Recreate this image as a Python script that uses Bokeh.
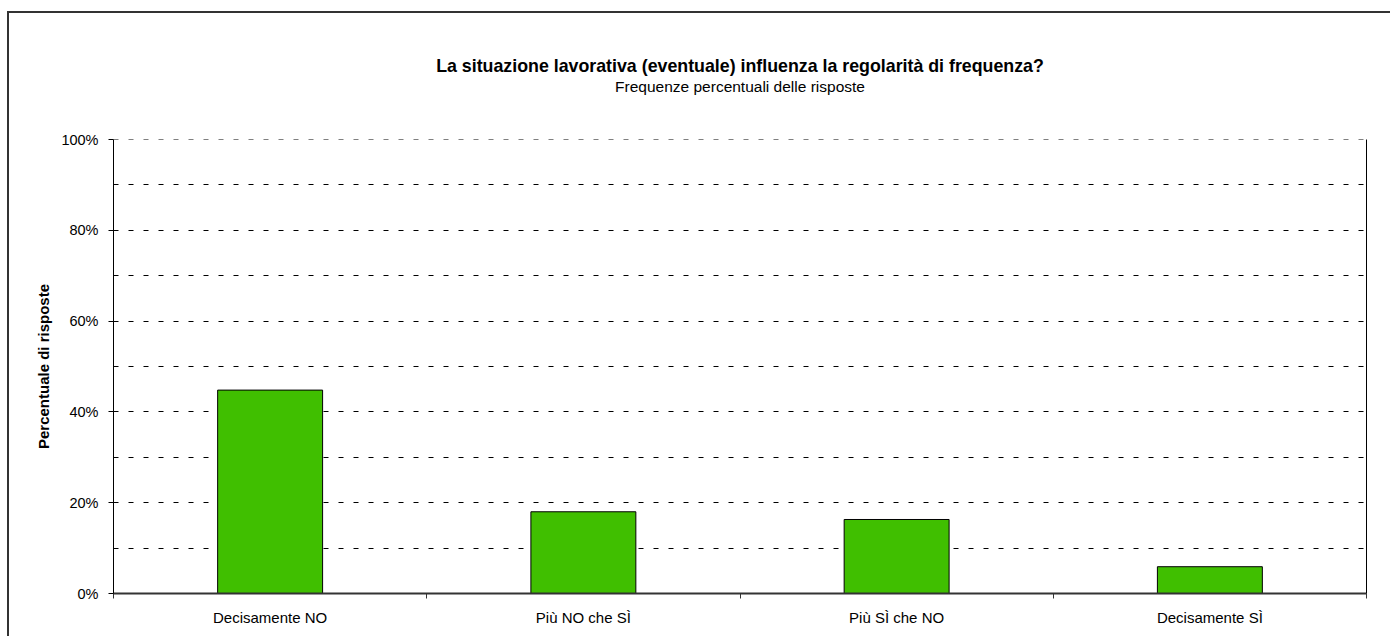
from bokeh.plotting import figure
from bokeh.models import Range1d, FixedTicker, LinearAxis, Title, ColumnDataSource, PrintfTickFormatter, Span
from bokeh.embed import file_html
from bokeh.resources import INLINE

# ---- data ----
categories = ["Decisamente NO", "Più NO che SÌ", "Più SÌ che NO", "Decisamente SÌ"]
percentages = [44.8, 18.0, 16.3, 5.9]
y_major_ticks = [0, 20, 40, 60, 80, 100]
y_minor_ticks = [10, 30, 50, 70, 90]
title_text = "La situazione lavorativa (eventuale) influenza la regolarità di frequenza?"
subtitle_text = "Frequenze percentuali delle risposte"
y_label = "Percentuale di risposte"

FONT = "Liberation Sans"

positions = [i + 0.5 for i in range(len(categories))]
boundaries = [float(i) for i in range(len(categories) + 1)]
src = ColumnDataSource(dict(x=positions, top=percentages, cat=categories))

p = figure(
    width=1383, height=625,
    x_range=Range1d(0, len(categories)), y_range=Range1d(0, 100),
    output_backend="svg", toolbar_location=None,
    min_border_left=104, min_border_right=26, min_border_top=126, min_border_bottom=45,
    title=None,
)
p.styles = {"margin-top": "11px", "margin-left": "7px",
            "border-left": "2px solid #333", "border-top": "2px solid #333"}
p.outline_line_color = None
p.background_fill_color = "white"
p.border_fill_color = "white"

p.vbar(x="x", top="top", width=0.335, source=src,
       fill_color="#40BF00", line_color="black", line_width=1)

# titles (spacer closest to the frame, then subtitle, then main title)
spacer = Title(text=" ", align="center", text_font=FONT, text_font_size="1px",
               text_color="white", standoff=42)
sub = Title(text=subtitle_text, align="center", text_font=FONT, text_font_size="15.5px",
            text_font_style="normal", text_color="black", standoff=0)
main = Title(text=title_text, align="center", text_font=FONT, text_font_size="17.8px",
             text_font_style="bold", text_color="black", standoff=0)
p.add_layout(spacer, "above")
p.add_layout(sub, "above")
p.add_layout(main, "above")

# x axis
xa = p.xaxis[0]
xa.ticker = FixedTicker(ticks=positions, minor_ticks=boundaries)
xa.major_label_overrides = {pos: c for pos, c in zip(positions, categories)}
xa.major_tick_line_color = None
xa.major_tick_out = 5
xa.major_label_standoff = 10
xa.minor_tick_in = 0
xa.minor_tick_out = 5
xa.minor_tick_line_color = "#333333"
xa.axis_line_color = "#333333"
xa.axis_line_width = 2
xa.major_label_text_font = FONT
xa.major_label_text_font_size = "15px"
xa.major_label_text_color = "black"

# y axis
ya = p.yaxis[0]
yt = FixedTicker(ticks=y_major_ticks, minor_ticks=y_minor_ticks)
ya.ticker = yt
ya.formatter = PrintfTickFormatter(format="%d%%")
ya.major_tick_in = 0
ya.major_tick_out = 5
ya.major_tick_line_color = "black"
ya.minor_tick_line_color = None
ya.axis_line_color = "black"
ya.major_label_standoff = 10
ya.major_label_text_font = FONT
ya.major_label_text_font_size = "14.5px"
ya.major_label_text_color = "black"
ya.axis_label = y_label
ya.axis_label_text_font = FONT
ya.axis_label_text_font_size = "15px"
ya.axis_label_text_font_style = "bold"
ya.axis_label_text_color = "black"
ya.axis_label_standoff = 6

# right border as an axis line
ra = LinearAxis(ticker=FixedTicker(ticks=[]), major_label_text_font_size="0px",
                major_tick_line_color=None, minor_tick_line_color=None,
                axis_line_color="black")
p.add_layout(ra, "right")

# grid
p.xgrid.visible = False
p.ygrid.ticker = yt
p.ygrid.grid_line_color = "black"
p.ygrid.grid_line_dash = "5 10"
p.ygrid.minor_grid_line_color = "black"
p.ygrid.minor_grid_line_dash = "5 10"
p.add_layout(Span(location=y_major_ticks[-1], dimension="width", line_color="black",
                  line_dash="5 10", line_width=1))

open("out.html", "w").write(file_html(p, INLINE))
